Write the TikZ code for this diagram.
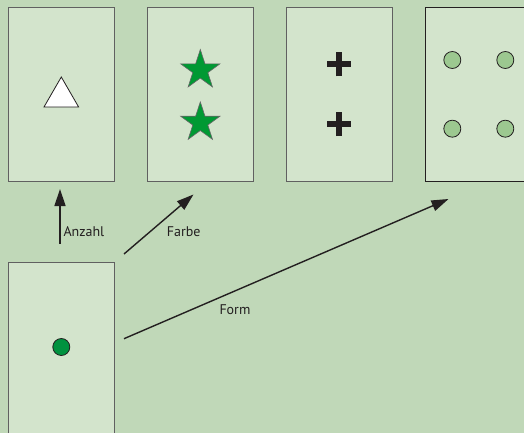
\documentclass[tikz,border=0pt]{standalone}
\usepackage{fontspec}
\setmainfont{PT Sans}
\usetikzlibrary{shapes.geometric,arrows.meta}
\definecolor{bg}{HTML}{C0D8B8}
\definecolor{card}{HTML}{D3E4CC}
\definecolor{cardline}{HTML}{606060}
\definecolor{ink}{HTML}{231F20}
\definecolor{stargreen}{HTML}{009933}
\definecolor{dotgreen}{HTML}{00923F}
\definecolor{palegreen}{HTML}{9CC890}
\tikzset{
  cardbox/.style={draw=cardline, fill=card, line width=1pt, minimum width=105.5pt, minimum height=173.5pt, inner sep=0pt},
  arrowline/.style={draw=ink, line width=1.4pt, -{Triangle[length=17pt,width=11pt]}},
  label/.style={font=\fontsize{14}{15}\selectfont, text=ink, inner sep=0pt, anchor=west},
  starshape/.style={star, star points=5, star point ratio=2.618, minimum size=41.4pt, inner sep=0pt, fill=stargreen, draw=gray!80!black, line width=0.6pt},
  roundspot/.style={circle, minimum size=17pt, inner sep=0pt, draw=ink, line width=0.8pt},
  plusbar/.style={draw=ink, line width=6pt},
}
\begin{document}
\begin{tikzpicture}[x=1pt,y=-1pt]
  \useasboundingbox (0,0) rectangle (524,433);
  \fill[bg] (0,0) rectangle (524,433);
  \clip (0,0) rectangle (524,433);

  % cards in the top row
  \node[cardbox] (one)   at (61.25,94.25)  {};
  \node[cardbox] (two)   at (200.5,94.25)  {};
  \node[cardbox] (three) at (339.5,94.25)  {};
  \node[cardbox, draw=ink] (four) at (478.5,94.25) {};
  % the card below
  \node[cardbox] (start) at (61.25,348.75) {};

  % card one: a single white triangle
  \node[isosceles triangle, isosceles triangle apex angle=60, shape border rotate=90,
        minimum height=30pt, inner sep=0pt, fill=white, draw=ink, line width=0.8pt] (tri) at (61.3,97) {};

  % card two: two green stars
  \node[starshape] (starA) at (200.3,70.2) {};
  \node[starshape] (starB) at (200.3,122.6) {};

  % card three: two plus signs
  \coordinate (plusA) at (339.3,64.3);
  \coordinate (plusB) at (339.3,124);
  \foreach \p in {plusA,plusB}{
    \draw[plusbar] ([xshift=-12pt]\p) -- ([xshift=12pt]\p);
    \draw[plusbar] ([yshift=-12pt]\p) -- ([yshift=12pt]\p);
  }

  % card four: four pale circles
  \node[roundspot, fill=palegreen] (c1) at (452.3,60) {};
  \node[roundspot, fill=palegreen] (c2) at (505.3,60) {};
  \node[roundspot, fill=palegreen] (c3) at (452.3,128.7) {};
  \node[roundspot, fill=palegreen] (c4) at (505.3,128.7) {};

  % start card: one green dot
  \node[roundspot, fill=dotgreen] (dot) at (61.3,347) {};

  % arrow end points
  \coordinate (aFrom) at (60,243.5);
  \coordinate (aTo)   at (60,189);
  \coordinate (fFrom) at (124,254);
  \coordinate (fTo)   at (193.5,194.5);
  \coordinate (oFrom) at (124,338.7);
  \coordinate (oTo)   at (448.5,199);

  \draw[arrowline] (aFrom) -- (aTo);
  \draw[arrowline] (fFrom) -- (fTo);
  \draw[arrowline] (oFrom) -- (oTo);

  \node[label] (lA) at (63.3,231.7) {Anzahl};
  \node[label] (lF) at (166.7,231.7) {Farbe};
  \node[label] (lO) at (219.3,309.3) {Form};
\end{tikzpicture}
\end{document}
